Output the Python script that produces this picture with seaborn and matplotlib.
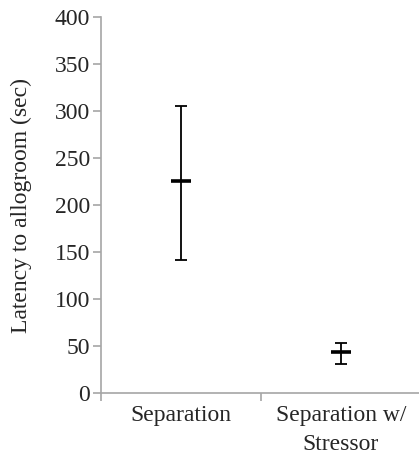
import matplotlib
matplotlib.use('Agg')
import matplotlib.pyplot as plt
import seaborn as sns
import pandas as pd
from matplotlib.ticker import FixedLocator

# group means with upper / lower error limits
groups = ['Separation', 'Separation w/\nStressor']
means = [226, 43]
upper = [306, 53]
lower = [142, 31]

df = pd.DataFrame({'group': groups, 'mean': means, 'upper': upper, 'lower': lower})

sns.set_style('white')
plt.rcParams['font.family'] = ['Liberation Serif', 'DejaVu Serif']

fig, ax = plt.subplots(figsize=(4.19, 4.66), dpi=100)
fig.subplots_adjust(left=0.241, right=1.004, top=0.963, bottom=0.157)

# error bars
ax.errorbar(x=range(len(df)), y=df['mean'],
            yerr=[df['mean'] - df['lower'], df['upper'] - df['mean']],
            fmt='none', ecolor='black', elinewidth=1.3, capsize=4.5, capthick=1.3)
# mean markers
sns.scatterplot(data=df, x='group', y='mean', marker='_', s=210, color='black',
                linewidth=2.6, ax=ax, zorder=3)

ax.set_xlim(-0.5, 1.5)
ax.set_ylim(0, 400)
ax.set_yticks(range(0, 401, 50))
ax.set_xticks([0, 1])
ax.set_xticklabels(groups, linespacing=1.45)
ax.xaxis.set_minor_locator(FixedLocator([-0.5, 0.5, 1.5]))

for side in ['top', 'right']:
    ax.spines[side].set_visible(False)
for side in ['left', 'bottom']:
    ax.spines[side].set_color('#a6a6a6')
    ax.spines[side].set_linewidth(1.2)

ax.tick_params(axis='y', which='major', direction='out', length=6, width=1.2,
               color='#a6a6a6', labelsize=17, pad=2, left=True)
ax.tick_params(axis='x', which='major', length=0, labelsize=17, pad=9)
ax.tick_params(axis='x', which='minor', direction='out', length=6, width=1.2,
               color='#a6a6a6', bottom=True)
ax.set_xlabel('')
ax.set_ylabel('Latency to allogroom (sec)', fontsize=17, labelpad=16)

plt.savefig('out.png', dpi=100)
